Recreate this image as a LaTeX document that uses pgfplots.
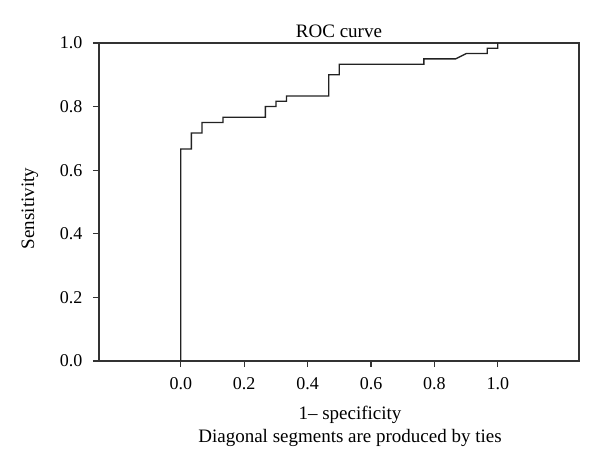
\documentclass[border=0pt]{standalone}
\usepackage{fontspec}
\setmainfont{Liberation Serif}
\usepackage{pgfplots}
\pgfplotsset{compat=1.18}
\definecolor{axcol}{HTML}{333333}
\definecolor{curvecol}{HTML}{222222}
\begin{document}
\begin{tikzpicture}
\path[use as bounding box] (-99bp,-110bp) rectangle (501bp,361bp);
\begin{axis}[
  at={(0,0)}, anchor=south west,
  scale only axis,
  width=480bp, height=318bp,
  xmin=-0.258, xmax=1.256,
  ymin=0, ymax=1,
  axis line style={axcol, line width=1.2bp},
  tick style={axcol, line width=1.2bp},
  tick align=outside,
  major tick length=6bp,
  xtick pos=bottom, ytick pos=left,
  xtick={0,0.2,0.4,0.6,0.8,1.0},
  ytick={0,0.2,0.4,0.6,0.8,1.0},
  /pgf/number format/assume math mode=true,
  /pgf/number format/.cd, fixed, fixed zerofill, precision=1,
  /pgfplots/.cd,
  tick label style={font=\fontsize{18bp}{21bp}\selectfont, text=black},
  xticklabel style={yshift=-7bp},
  yticklabel style={xshift=-7bp},
  title style={font=\fontsize{19bp}{23bp}\selectfont, text=black, yshift=-4bp},
  title={ROC curve},
  xlabel={1– specificity\\Diagonal segments are produced by ties},
  every axis x label/.style={at={(axis description cs:0.523,-0.206)}, anchor=center, align=center,
    font=\fontsize{19bp}{23bp}\selectfont, text=black},
  ylabel={Sensitivity},
  every axis y label/.style={at={(axis description cs:-0.144,0.48)}, anchor=center, rotate=90,
    font=\fontsize{19bp}{23bp}\selectfont, text=black},
  clip=false,
]
\addplot[curvecol, line width=1.3bp] coordinates {
(0,0) (0,0.6667) (0.0333,0.6667) (0.0333,0.7167) (0.0667,0.7167) (0.0667,0.75)
(0.1333,0.75) (0.1333,0.7667) (0.2667,0.7667) (0.2667,0.8) (0.3,0.8) (0.3,0.8167)
(0.3333,0.8167) (0.3333,0.8333) (0.4667,0.8333) (0.4667,0.9) (0.5,0.9) (0.5,0.9333)
(0.7667,0.9333) (0.7667,0.95) (0.8667,0.95) (0.9,0.9667) (0.9667,0.9667)
(0.9667,0.9833) (1,0.9833) (1,1)
};
\end{axis}
\end{tikzpicture}
\end{document}
